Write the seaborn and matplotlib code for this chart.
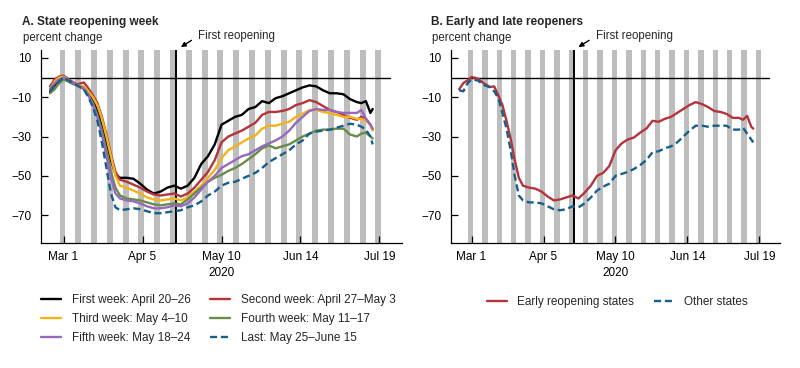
import matplotlib
matplotlib.use("Agg")
import matplotlib.pyplot as plt
import numpy as np
import pandas as pd
import seaborn as sns

# days since 1 March 2020
day_offsets = [-6, -4, -2, 0, 3, 6, 9, 11, 13, 15, 17, 19, 21, 23, 25, 28, 31, 34, 37, 40,
               43, 46, 49, 52, 55, 58, 61, 64, 67, 70, 73, 76, 79, 82, 85, 88, 91, 94, 97, 100,
               103, 106, 109, 112, 115, 118, 121, 124, 127, 130, 132, 134, 136, 137]

first_week = [-7.5, -4, -1, 0.5, -2.5, -4, -5.5, -8, -12, -17, -24, -33, -42, -49, -51, -51, -51.5, -54, -57, -59,
              -58, -56, -55, -56.5, -55, -51, -44, -40, -34, -24, -22, -20, -19, -16, -15, -12, -13, -10.5, -9.5, -8,
              -6.5, -5, -4, -4.5, -6.5, -8, -8, -8.5, -11, -12.5, -13, -12, -18, -16]
second_week = [-4.5, -1, 0.5, 1, -1.5, -3.5, -2.5, -5.5, -9, -13, -20, -29, -39, -48, -52, -53, -54.5, -56, -58, -59.5,
               -60, -59.5, -59, -60.5, -59, -56, -52, -48, -42, -33, -30, -28.5, -27, -25, -23, -19, -17.5, -17.5, -17, -16,
               -14, -13, -11.5, -12.5, -14.5, -16.5, -17.5, -19, -20.5, -21.5, -20, -21, -24, -26.5]
third_week = [-6, -2, 0, 0.5, -2, -4, -4.5, -7, -10, -14, -21, -30, -40, -50, -55, -56, -57.5, -59, -61, -62,
              -62.5, -62, -61.5, -62.5, -61, -58, -55, -51, -47, -41, -37, -35, -33, -31, -29.5, -26, -24.5, -24.5, -23.5, -22.5,
              -20, -18.5, -16.5, -16.5, -17.5, -18, -19, -20, -20, -21, -21, -22, -24, -27]
fourth_week = [-8, -6, -3, -1, -2.5, -4, -6, -9, -13, -19, -27, -37, -48, -56, -60, -61.5, -62, -62.5, -63.5, -64.5,
               -65, -64.5, -64, -64.5, -62, -59, -56, -53, -51, -49.5, -47.5, -46, -44, -41.5, -39, -36, -34.5, -36, -35, -34,
               -32, -30, -28.5, -27, -26.5, -26.5, -26, -26, -29, -30, -28.5, -28, -30, -31]
fifth_week = [-6, -3, -1, 0, -2, -4, -5.5, -9, -14, -20, -29, -40, -51, -59, -61.5, -62.5, -63, -64, -65.5, -66.5,
              -66.5, -66, -65, -65.5, -64, -61, -57, -53, -50, -46, -44, -42, -40, -39, -37, -35, -33.5, -32, -30, -27,
              -23, -20, -17, -16, -16.5, -16.5, -17.5, -18, -18, -18, -16.5, -21, -24, -26]
last_weeks = [-7, -4, -2, 0, -2, -4, -6, -10, -15, -22, -33, -46, -59, -66, -67.5, -67, -66.5, -67, -68, -69,
              -69, -68.5, -68, -67.5, -66, -65, -63, -60, -58, -55, -53.5, -53, -51.5, -50, -48.5, -46, -43, -41, -39, -37,
              -34, -32, -28.5, -27.5, -27, -26.5, -25.5, -24.5, -23.5, -24, -25, -26.5, -30, -34]

early_states = [-6, -2.8, -1.5, 0.3, -0.5, -3, -4.8, -4.5, -9, -14, -22, -31, -42, -51, -55, -56, -56.5, -58, -60.5, -62.5,
                -62, -61, -60, -61.5, -58.5, -55, -50, -48.5, -45, -37, -33.5, -31.5, -30.5, -28, -26, -22, -22.5, -21, -20, -18,
                -16, -14, -12.5, -13.5, -15, -17, -17.5, -18.5, -20.5, -20.5, -21.5, -19.5, -25, -26]
other_states = [-6.5, -7, -3, -1, -1.5, -3.8, -5, -7, -10.5, -18, -26, -37, -50, -60, -62.5, -63.5, -63.5, -64, -65.5, -67,
                -67.5, -67, -65.5, -66, -64, -61, -57.5, -55.5, -54, -50, -49, -48, -46.5, -44.5, -42, -38, -37.5, -36, -35, -33,
                -30, -27, -24.5, -24.5, -25, -24.5, -24.5, -24.5, -26.5, -26.5, -25.5, -28.5, -31.5, -33]

week_names = ["First week: April 20–26", "Second week: April 27–May 3", "Third week: May 4–10",
              "Fourth week: May 11–17", "Fifth week: May 18–24", "Last: May 25–June 15"]
group_names = ["Early reopening states", "Other states"]

tick_dates = ["2020-03-01", "2020-04-05", "2020-05-10", "2020-06-14", "2020-07-19"]
tick_labels = ["Mar 1", "Apr 5", "May 10\n2020", "Jun 14", "Jul 19"]
reopen_date = pd.Timestamp("2020-04-20")

colors = {
    week_names[0]: "#000000", week_names[1]: "#B5333B", week_names[2]: "#F2B31A",
    week_names[3]: "#688C48", week_names[4]: "#9669BE", week_names[5]: "#155F8A",
    group_names[0]: "#B5333B", group_names[1]: "#155F8A",
}
dash_pat = (3, 1.6)

dates = pd.Timestamp("2020-03-01") + pd.to_timedelta(day_offsets, unit="D")
week_df = pd.concat([
    pd.DataFrame({"date": dates, "value": v, "series": n})
    for n, v in zip(week_names, [first_week, second_week, third_week, fourth_week, fifth_week, last_weeks])
])
group_df = pd.concat([
    pd.DataFrame({"date": dates, "value": v, "series": n})
    for n, v in zip(group_names, [early_states, other_states])
])

sns.set_style("ticks")
plt.rcParams["font.family"] = ["Liberation Sans", "DejaVu Sans"]
plt.rcParams["font.size"] = 8.5

fig = plt.figure(figsize=(8, 3.68), dpi=100)
ax_a = fig.add_axes([41 / 800, 1 - 242.7 / 368, 361 / 800, 192.7 / 368])
ax_b = fig.add_axes([451 / 800, 1 - 242.7 / 368, 329 / 800, 192.7 / 368])

weekends = pd.date_range("2020-02-29", "2020-07-18", freq="7D")


def base_axes(ax):
    for sat in weekends:
        ax.axvspan(sat - pd.Timedelta(hours=19), sat + pd.Timedelta(hours=44),
                   color="#bdbdbd", lw=0, zorder=0)
    ax.axhline(0, color="black", lw=1, xmax=0.966, zorder=1)
    ax.axvline(reopen_date, color="black", lw=1.4, zorder=1)
    ax.set_xlim(pd.Timestamp("2020-02-20"), pd.Timestamp("2020-07-29"))
    ax.set_ylim(-84, 14)
    ax.set_yticks([10, -10, -30, -50, -70])
    ax.set_xticks(pd.to_datetime(tick_dates))
    ax.set_xticklabels(tick_labels)
    for lab in ax.get_xticklabels():
        lab.set_linespacing(1.45)
    ax.tick_params(axis="both", direction="in", length=5, width=0.9, colors="black",
                   labelsize=8.5, pad=6)
    ax.tick_params(axis="y", length=5, pad=7)
    ax.set_xlabel("")
    ax.set_ylabel("")
    sns.despine(ax=ax)
    for s in ["left", "bottom"]:
        ax.spines[s].set_color("black")
        ax.spines[s].set_linewidth(0.9)
    ax.annotate("First reopening", xy=(reopen_date + pd.Timedelta(days=2), 1.015),
                xycoords=("data", "axes fraction"), xytext=(12.5, 8),
                textcoords="offset points", ha="left", va="center", fontsize=8.3,
                arrowprops=dict(arrowstyle="-|>", color="black", lw=1, relpos=(0, 0.5),
                                shrinkA=3, shrinkB=0, mutation_scale=7))


sns.lineplot(data=week_df, x="date", y="value", hue="series", style="series",
             hue_order=week_names, style_order=week_names, palette=colors,
             dashes={n: ("" if n != week_names[5] else dash_pat) for n in week_names},
             estimator=None, sort=False, lw=1.7, ax=ax_a, zorder=3)
sns.lineplot(data=group_df, x="date", y="value", hue="series", style="series",
             hue_order=group_names, style_order=group_names, palette=colors,
             dashes={group_names[0]: "", group_names[1]: dash_pat},
             estimator=None, sort=False, lw=1.7, ax=ax_b, zorder=3)

base_axes(ax_a)
base_axes(ax_b)

h, l = ax_a.get_legend_handles_labels()
lookup = dict(zip(l, h))
order = [week_names[i] for i in [0, 2, 4, 1, 3, 5]]
ax_a.legend([lookup[n] for n in order], order, ncol=2, frameon=False,
            loc="upper left", bbox_to_anchor=(41 / 800, 1 - 294 / 368),
            bbox_transform=fig.transFigure, borderpad=0, borderaxespad=0,
            handlelength=1.7, handletextpad=0.95, columnspacing=1.6,
            labelspacing=0.6, fontsize=8.5)

h, l = ax_b.get_legend_handles_labels()
lookup = dict(zip(l, h))
ax_b.legend([lookup[n] for n in group_names], group_names, ncol=2, frameon=False,
            loc="upper center", bbox_to_anchor=(617 / 800, 1 - 296 / 368),
            bbox_transform=fig.transFigure, borderpad=0, borderaxespad=0,
            handlelength=1.7, handletextpad=0.85, columnspacing=1.7, fontsize=8.5)

fig.text(22 / 800, 1 - 25 / 368, "A. State reopening week", fontsize=8.5,
         fontweight="bold", va="baseline")
fig.text(23 / 800, 1 - 41 / 368, "percent change", fontsize=8.3, va="baseline")
fig.text(431 / 800, 1 - 25 / 368, "B. Early and late reopeners", fontsize=8.5,
         fontweight="bold", va="baseline")
fig.text(432 / 800, 1 - 41 / 368, "percent change", fontsize=8.3, va="baseline")

fig.savefig("out.png", dpi=100)
